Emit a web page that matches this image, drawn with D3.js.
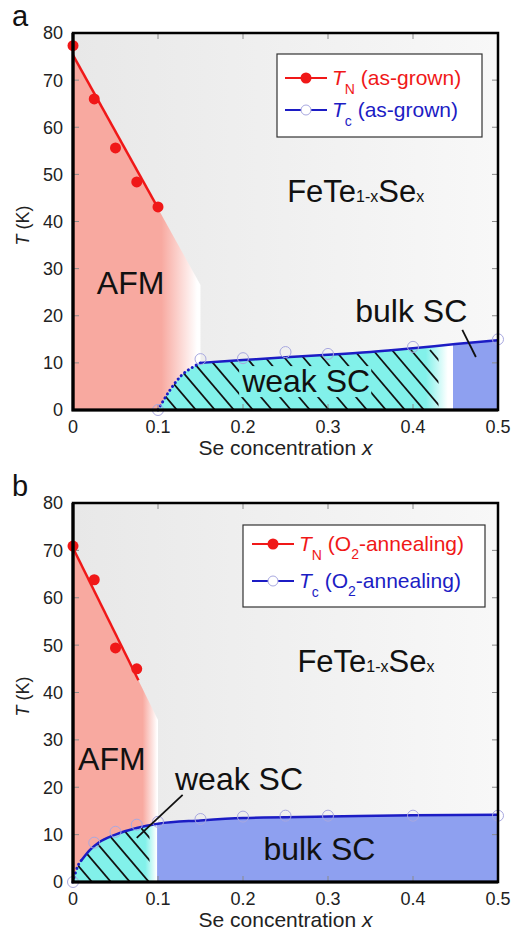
<!DOCTYPE html>
<html lang="en">
<head>
<meta charset="UTF-8">
<title>FeTe1-xSex phase diagram</title>
<script src="https://d3js.org/d3.v7.min.js"></script>
<style>
  body { margin: 0; background: #fff; }
  text { font-family: "Liberation Sans", Arial, sans-serif; }
</style>
</head>
<body>
<svg width="513" height="938"></svg>
<script>
// ---- values ----
const xTicks = [0, 0.1, 0.2, 0.3, 0.4, 0.5];
const yTicks = [0, 10, 20, 30, 40, 50, 60, 70, 80];

// panel a : as-grown
const tnXa = [0, 0.025, 0.05, 0.075, 0.1];
const tnYa = [77.3, 66, 55.6, 48.4, 43.1];
const tnFitA = [[0, 75.3], [0.102, 42.2]];
const afmA = [[0, 0], [0, 75.3], [0.15, 26.5], [0.15, 0]];
const tcXa = [0.1, 0.15, 0.2, 0.25, 0.3, 0.4, 0.5];
const tcYa = [0, 10.8, 11, 12.3, 11.9, 13.4, 15];
const tcDotA = [[0.1, 0], [0.114, 4.2], [0.128, 7.4], [0.141, 9.1], [0.15, 10]];
const tcLineA = [[0.15, 10], [0.2, 10.6], [0.25, 11.2], [0.3, 11.7], [0.35, 12.3], [0.4, 13.1], [0.45, 14], [0.5, 14.8]];

// panel b : O2-annealing
const tnXb = [0, 0.025, 0.05, 0.075];
const tnYb = [70.9, 63.8, 49.4, 45];
const tnFitB = [[0, 70.5], [0.077, 42.6]];
const afmB = [[0, 0], [0, 70.5], [0.1, 34.2], [0.1, 0]];
const tcXb = [0, 0.025, 0.05, 0.075, 0.1, 0.15, 0.2, 0.25, 0.3, 0.4, 0.5];
const tcYb = [0, 8.3, 10.6, 12.1, 12.7, 13.3, 13.8, 14, 14, 14, 14];
const tcDotB = [[0, 0], [0.003, 2], [0.006, 3.5], [0.01, 4.6]];
const tcLineB = [[0.01, 4.6], [0.02, 6.8], [0.03, 8.3], [0.05, 10], [0.075, 11.4], [0.1, 12.3], [0.15, 13], [0.2, 13.5], [0.3, 13.8], [0.4, 14.1], [0.5, 14.2]];

const pink = "#f8a9a0", cyan = "#82f1ea", blue = "#8ea0f0";
const red = "#f01818", navy = "#1c1cc4", ring = "#a8a8e0";

const svg = d3.select("svg");
const defs = svg.append("defs");

const x = d3.scaleLinear().domain([0, 0.5]).range([73, 498]);

// background gradient
const bg = defs.append("linearGradient").attr("id", "bg");
bg.append("stop").attr("offset", 0).attr("stop-color", "#e8e8e8");
bg.append("stop").attr("offset", 1).attr("stop-color", "#f8f8f8");

function hGrad(id, x1, x2, stops) {
    const g = defs.append("linearGradient").attr("id", id)
        .attr("gradientUnits", "userSpaceOnUse")
        .attr("x1", x1).attr("x2", x2).attr("y1", 0).attr("y2", 0);
    stops.forEach(s => g.append("stop").attr("offset", s[0]).attr("stop-color", s[1]));
}

function panel(p) {
    const y = d3.scaleLinear().domain([0, 80]).range([p.bottom, p.top]);
    const line = d3.line().x(d => x(d[0])).y(d => y(d[1]));
    const curve = d3.line().x(d => x(d[0])).y(d => y(d[1])).curve(d3.curveMonotoneX);
    const g = svg.append("g");

    // plot background
    g.append("rect")
        .attr("x", x(0)).attr("y", y(80))
        .attr("width", x(0.5) - x(0)).attr("height", y(0) - y(80))
        .attr("fill", "url(#bg)");

    // AFM region, fading out to the right
    const afmEnd = p.afm[2][0];
    hGrad("afm" + p.id, x(0), x(afmEnd), [[p.afmFade[0] / afmEnd, pink], [p.afmFade[1] / afmEnd, "#fff"]]);
    g.append("path").datum(p.afm)
        .attr("d", line.curve(d3.curveLinear))
        .attr("fill", `url(#afm${p.id})`);

    // SC region under the Tc curve
    const scPts = p.tcDot.concat(p.tcLine.slice(1));
    const area = d3.area().x(d => x(d[0])).y0(y(0)).y1(d => y(d[1])).curve(d3.curveMonotoneX);
    hGrad("sc" + p.id, x(0), x(0.5), p.scStops.map(s => [s[0] / 0.5, s[1]]));
    g.append("path").datum(scPts).attr("d", area).attr("fill", `url(#sc${p.id})`);

    // hatching of the weak SC part
    defs.append("clipPath").attr("id", "hatchArea" + p.id)
        .append("path").datum(scPts).attr("d", area);
    defs.append("clipPath").attr("id", "hatchX" + p.id)
        .append("rect")
        .attr("x", x(p.hatch[0])).attr("y", y(80))
        .attr("width", x(p.hatch[1]) - x(p.hatch[0])).attr("height", y(0) - y(80));
    const hatch = g.append("g").attr("clip-path", `url(#hatchX${p.id})`)
        .append("g").attr("clip-path", `url(#hatchArea${p.id})`);
    const h = 60, step = 19, slope = 0.85;
    hatch.selectAll("line")
        .data(d3.range(x(p.hatch[0]) - h * slope, x(p.hatch[1]) + step, step))
        .join("line")
        .attr("x1", d => d).attr("y1", y(0) - h)
        .attr("x2", d => d + h * slope).attr("y2", y(0))
        .attr("stroke", "#111").attr("stroke-width", 1.8);

    // axis ticks, inward on all four sides
    const tk = g.append("g").attr("stroke", "#8a8a8a").attr("stroke-width", 1);
    xTicks.slice(1, -1).forEach(v => {
        tk.append("line").attr("x1", x(v)).attr("x2", x(v)).attr("y1", y(80)).attr("y2", y(80) + 6);
        tk.append("line").attr("x1", x(v)).attr("x2", x(v)).attr("y1", y(0)).attr("y2", y(0) - 6);
    });
    yTicks.slice(1, -1).forEach(v => {
        tk.append("line").attr("x1", x(0)).attr("x2", x(0) + 6).attr("y1", y(v)).attr("y2", y(v));
        tk.append("line").attr("x1", x(0.5)).attr("x2", x(0.5) - 6).attr("y1", y(v)).attr("y2", y(v));
    });

    // TN fit line and points
    g.append("path").datum(p.tnFit).attr("d", line.curve(d3.curveLinear))
        .attr("fill", "none").attr("stroke", red).attr("stroke-width", 2.5);
    g.append("g").selectAll("circle")
        .data(p.tnX.map((v, i) => [v, p.tnY[i]]))
        .join("circle")
        .attr("cx", d => x(d[0])).attr("cy", d => y(d[1])).attr("r", 5.5)
        .attr("fill", red);

    // Tc curve: dotted near onset, solid after
    g.append("path").datum(p.tcDot).attr("d", curve)
        .attr("fill", "none").attr("stroke", navy).attr("stroke-width", 3)
        .attr("stroke-dasharray", "0.1,4.5").attr("stroke-linecap", "round");
    g.append("path").datum(p.tcLine).attr("d", curve)
        .attr("fill", "none").attr("stroke", navy).attr("stroke-width", 2.5);
    g.append("g").selectAll("circle")
        .data(p.tcX.map((v, i) => [v, p.tcY[i]]))
        .join("circle")
        .attr("cx", d => x(d[0])).attr("cy", d => y(d[1])).attr("r", 5.5)
        .attr("fill", "none").attr("stroke", ring).attr("stroke-width", 1);

    // region labels
    p.labels.forEach(l => {
        const t = g.append("text")
            .attr("x", x(l.at[0])).attr("y", y(l.at[1]))
            .attr("font-size", 32).attr("fill", "#111").text(l.text);
        if (l.box) {
            const bb = t.node().getBBox();
            g.insert("rect", () => t.node())
                .attr("x", bb.x - 2).attr("y", y(l.at[1]) - 26)
                .attr("width", bb.width + 3).attr("height", 31)
                .attr("fill", cyan);
        }
    });
    p.leaders.forEach(d => {
        g.append("path").datum(d).attr("d", line.curve(d3.curveLinear))
            .attr("stroke", "#111").attr("stroke-width", 1.8).attr("fill", "none");
    });

    // compound name
    const f = g.append("text").attr("x", x(p.formula[0])).attr("y", y(p.formula[1]))
        .attr("font-size", 31).attr("fill", "#111");
    f.append("tspan").text("FeTe");
    f.append("tspan").attr("font-size", 16).text("1-x");
    f.append("tspan").text("Se");
    f.append("tspan").attr("font-size", 16).text("x");

    // frame
    g.append("rect")
        .attr("x", x(0)).attr("y", y(80))
        .attr("width", x(0.5) - x(0)).attr("height", y(0) - y(80))
        .attr("fill", "none").attr("stroke", "#000").attr("stroke-width", 2.5);
    g.append("path")
        .attr("d", `M${x(0)},${y(80)}V${y(0)}H${x(0.5)}`)
        .attr("fill", "none").attr("stroke", "#000").attr("stroke-width", 3.2);

    // tick labels
    g.append("g").selectAll("text").data(yTicks).join("text")
        .attr("x", x(0) - 10).attr("y", d => y(d)).attr("dy", "0.36em")
        .attr("text-anchor", "end").attr("font-size", 18).attr("fill", "#222")
        .text(d => d);
    g.append("g").selectAll("text").data(xTicks).join("text")
        .attr("x", d => x(d)).attr("y", y(0) + 23)
        .attr("text-anchor", "middle").attr("font-size", 18).attr("fill", "#222")
        .text(d => d);

    // axis titles
    const xl = g.append("text").attr("x", (x(0) + x(0.5)) / 2).attr("y", y(0) + 45)
        .attr("text-anchor", "middle").attr("font-size", 21).attr("fill", "#222");
    xl.append("tspan").text("Se concentration ");
    xl.append("tspan").attr("font-style", "italic").text("x");
    const yl = g.append("text")
        .attr("transform", `translate(29,${(y(0) + y(80)) / 2 + 4}) rotate(-90)`)
        .attr("text-anchor", "middle").attr("font-size", 18).attr("fill", "#222");
    yl.append("tspan").attr("font-style", "italic").text("T");
    yl.append("tspan").text(" (K)");

    // panel letter
    g.append("text").attr("x", 12).attr("y", y(80) - 7)
        .attr("font-size", 29).attr("fill", "#111").text(p.id);

    // legend
    const lg = g.append("g");
    lg.append("rect")
        .attr("x", p.legend.x).attr("y", p.legend.y)
        .attr("width", p.legend.w).attr("height", p.legend.h)
        .attr("fill", "#fff").attr("stroke", "#333").attr("stroke-width", 1.2);
    p.legend.rows.forEach((r, i) => {
        const ry = p.legend.rowY[i];
        const c = i === 0 ? red : navy;
        lg.append("line").attr("x1", p.legend.lx[0]).attr("x2", p.legend.lx[1])
            .attr("y1", ry).attr("y2", ry).attr("stroke", c).attr("stroke-width", 2.2);
        lg.append("circle").attr("cx", (p.legend.lx[0] + p.legend.lx[1]) / 2).attr("cy", ry)
            .attr("r", i === 0 ? 5.5 : 5)
            .attr("fill", i === 0 ? red : "#fff").attr("stroke", i === 0 ? "none" : ring);
        const t = lg.append("text").attr("x", p.legend.lx[1] + 5).attr("y", ry + 7)
            .attr("font-size", 21).attr("fill", c);
        t.append("tspan").attr("font-style", "italic").text("T");
        t.append("tspan").attr("font-size", 14).attr("dy", 9).text(r.sub);
        r.parts.forEach((part, j) => {
            const s = t.append("tspan").text(part.text);
            if (part.sub) s.attr("font-size", 14).attr("dy", 8);
            else if (j > 0 && r.parts[j - 1].sub) s.attr("dy", -8);
            else if (j === 0) s.attr("dy", -9);
        });
    });
}

panel({
    id: "a", top: 33, bottom: 410,
    tnX: tnXa, tnY: tnYa, tnFit: tnFitA, afm: afmA, afmFade: [0.104, 0.146],
    tcX: tcXa, tcY: tcYa, tcDot: tcDotA, tcLine: tcLineA,
    scStops: [[0, cyan], [0.415, cyan], [0.441, "#fff"], [0.4465, "#fff"], [0.4475, blue], [0.5, blue]],
    hatch: [0.1, 0.43],
    labels: [
        { text: "AFM", at: [0.028, 24.6] },
        { text: "weak SC", at: [0.199, 3.8], box: true },
        { text: "bulk SC", at: [0.332, 18.7] }
    ],
    leaders: [[[0.458, 17], [0.474, 11.25]]],
    formula: [0.252, 44.1],
    legend: {
        x: 277, y: 54, w: 205, h: 83, lx: [285, 327], rowY: [78, 110],
        rows: [
            { sub: "N", parts: [{ text: " (as-grown)" }] },
            { sub: "c", parts: [{ text: " (as-grown)" }] }
        ]
    }
});

panel({
    id: "b", top: 503, bottom: 882,
    tnX: tnXb, tnY: tnYb, tnFit: tnFitB, afm: afmB, afmFade: [0.082, 0.099],
    tcX: tcXb, tcY: tcYb, tcDot: tcDotB, tcLine: tcLineB,
    scStops: [[0, cyan], [0.085, cyan], [0.0985, "#fff"], [0.0995, blue], [0.5, blue]],
    hatch: [0, 0.09],
    labels: [
        { text: "AFM", at: [0.006, 23.6] },
        { text: "weak SC", at: [0.12, 19.4] },
        { text: "bulk SC", at: [0.224, 4.6] }
    ],
    leaders: [[[0.129, 18.4], [0.075, 9.3]]],
    formula: [0.264, 44.3],
    legend: {
        x: 243, y: 525, w: 242, h: 82, lx: [252, 294], rowY: [544, 581],
        rows: [
            { sub: "N", parts: [{ text: " (O" }, { text: "2", sub: true }, { text: "-annealing)" }] },
            { sub: "c", parts: [{ text: " (O" }, { text: "2", sub: true }, { text: "-annealing)" }] }
        ]
    }
});
</script>
</body>
</html>
